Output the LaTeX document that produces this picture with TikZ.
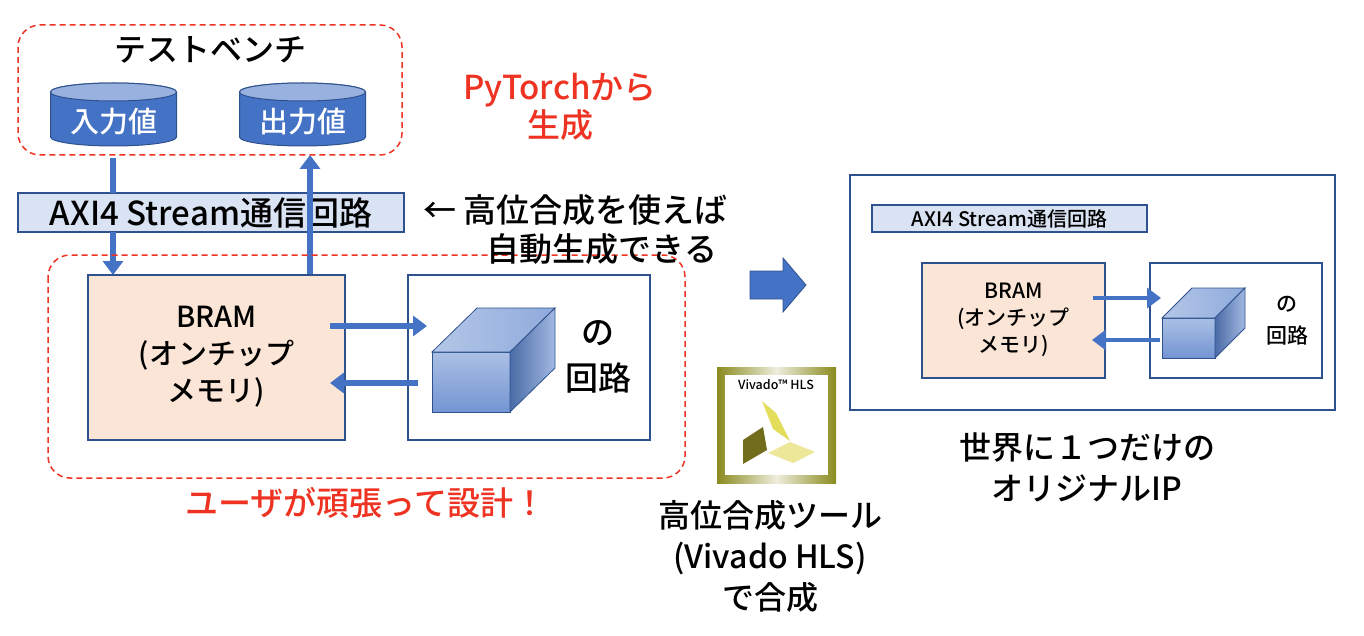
\documentclass[tikz,border=0pt]{standalone}
\usepackage{fontspec}
\setmainfont{Noto Sans CJK JP Medium}
\usetikzlibrary{arrows.meta}
\definecolor{bl}{HTML}{4472C4}
\definecolor{dbl}{HTML}{2F528F}
\definecolor{peach}{HTML}{FBE5D6}
\definecolor{axi}{HTML}{DAE3F3}
\definecolor{rd}{HTML}{EE3322}
\definecolor{gold}{HTML}{8A8A1E}
\begin{document}
\begin{tikzpicture}[x=1pt,y=-1pt,
  rdash/.style={draw=rd,dash pattern=on 6pt off 4pt,line width=1.5pt,rounded corners=22pt},
  box/.style={draw=dbl,line width=1.2pt},
  arr/.style={draw=bl,line width=6pt,-{Triangle[length=14pt,width=20pt]}},
  ln/.style={draw=bl,line width=6pt},
  t/.style={font=\fontsize{33}{36}\selectfont,inner sep=0pt},
  ts/.style={font=\fontsize{21}{23}\selectfont,inner sep=0pt,align=center}]
\useasboundingbox (0,0) rectangle (1364,636);
% testbench
\draw[rdash] (18,25) rectangle (402,155);
\node[t,font=\fontsize{32}{34}\selectfont] (tb) at (210,50) {テストベンチ};
\foreach \cx/\lab/\nm in {113.5/入力値/in,302.5/出力値/out}{
  \fill[bl,draw=dbl,line width=1pt] (\cx-63,92) -- (\cx-63,137) arc[start angle=180,end angle=0,x radius=63,y radius=9] -- (\cx+63,92) arc[start angle=0,end angle=-180,x radius=63,y radius=9] -- cycle;
  \fill[bl!55!white,draw=dbl,line width=1pt] (\cx,92) ellipse[x radius=63,y radius=9];
  \node[t,text=white,font=\fontsize{29}{30}\selectfont] (\nm) at (\cx,122) {\lab};
}
% AXI
\node[box,fill=axi,minimum width=386pt,minimum height=39pt,t,inner sep=0pt] (axi) at (211,212.5) {AXI4 Stream通信回路};
\coordinate (a1) at (113,158); \coordinate (a2) at (113,193); \coordinate (a3) at (113,232); \coordinate (a4) at (113,275);
\draw[ln] (a1)--(a2); \draw[arr] (a3)--(a4);
\coordinate (b1) at (310,275); \coordinate (b2) at (310,155);
\draw[arr] (b1)--(b2);
% lower dashed
\draw[rdash] (48,255) rectangle (685,478);
\node[box,fill=peach,minimum width=257pt,minimum height=165pt] (bram) at (216.5,357.5) {};
\node[t,align=center,font=\fontsize{29}{37}\selectfont] at (216.5,357) {BRAM\\(オンチップ\\メモリ)};
\node[box,fill=white,minimum width=242pt,minimum height=165pt] (ckt) at (529,357.5) {};
% cube
\shade[top color=bl!45!white,bottom color=bl!75!white,draw=dbl,line width=0.8pt] (432,352) rectangle (510,412);
\shade[left color=bl!40!white,right color=bl!60!white,draw=dbl,line width=0.8pt] (432,352)--(477,308)--(555,308)--(510,352)--cycle;
\shade[left color=bl!80!black!90,right color=bl!50!white,draw=dbl,line width=0.8pt] (510,352)--(555,308)--(555,368)--(510,412)--cycle;
\node[t] at (598,333) {の};
\node[t] at (598,378) {回路};
\draw[arr] (330,326)--(427,326);
\draw[arr] (418,383)--(330,383);
% texts
\node[t,anchor=west] at (423,210) {← 高位合成を使えば};
\node[t] at (602,249) {自動生成できる};
\node[t,text=rd,align=center,font=\fontsize{33}{38}\selectfont] at (560,107) {PyTorchから\\生成};
\node[t,text=rd] at (366,503) {ユーザが頑張って設計！};
% big arrow
\filldraw[fill=bl,draw=dbl,line width=0.8pt] (750,271)--(783,271)--(783,258)--(806,285)--(783,312)--(783,299)--(750,299)--cycle;
\coordinate (big) at (778,285);
% vivado logo
\shade[left color=gold,right color=gold,middle color=gold!15!white] (717,367) rectangle (836,483);
\fill[white] (725,375) rectangle (828,475);
\node[font=\fontsize{12.5}{12}\selectfont,inner sep=0pt] at (776,385) {Vivado™ HLS};
\fill[yellow!60!olive!60!white] (762,401)--(776,413)--(790,441)--(773,429)--cycle;
\fill[olive!75!black] (763,427)--(743,440)--(743,464)--(767,450)--cycle;
\fill[yellow!50!olive!35!white] (768,453)--(790,442)--(815,452)--(793,463)--cycle;
\node[t,align=center,font=\fontsize{32}{41}\selectfont] at (770,556) {高位合成ツール\\(Vivado HLS)\\で合成};
% right IP
\node[box,fill=white,minimum width=485pt,minimum height=235pt] (ip) at (1092.5,292.5) {};
\node[box,fill=axi,minimum width=275pt,minimum height=27pt,inner sep=0pt,font=\fontsize{20}{20}\selectfont] (axi2) at (1009.5,218.5) {AXI4 Stream通信回路};
\node[box,fill=peach,minimum width=183pt,minimum height=115pt] (bram2) at (1013.5,320.5) {};
\node[ts,font=\fontsize{21}{27}\selectfont] at (1013.5,320) {BRAM\\(オンチップ\\メモリ)};
\node[box,fill=white,minimum width=172pt,minimum height=115pt] (ckt2) at (1236,320.5) {};
\shade[top color=bl!45!white,bottom color=bl!75!white,draw=dbl,line width=0.8pt] (1162,318) rectangle (1215,358);
\shade[left color=bl!40!white,right color=bl!60!white,draw=dbl,line width=0.8pt] (1162,318)--(1192,288)--(1245,288)--(1215,318)--cycle;
\shade[left color=bl!80!black!90,right color=bl!50!white,draw=dbl,line width=0.8pt] (1215,318)--(1245,288)--(1245,328)--(1215,358)--cycle;
\node[ts] at (1287,304) {の};
\node[ts] at (1287,335) {回路};
\draw[arr,line width=4.5pt] (1093,298)--(1161,298);
\draw[arr,line width=4.5pt] (1160,340)--(1092,340);
\node[t,align=center,font=\fontsize{32}{41}\selectfont] at (1087,467) {世界に１つだけの\\オリジナルIP};
\end{tikzpicture}
\end{document}
